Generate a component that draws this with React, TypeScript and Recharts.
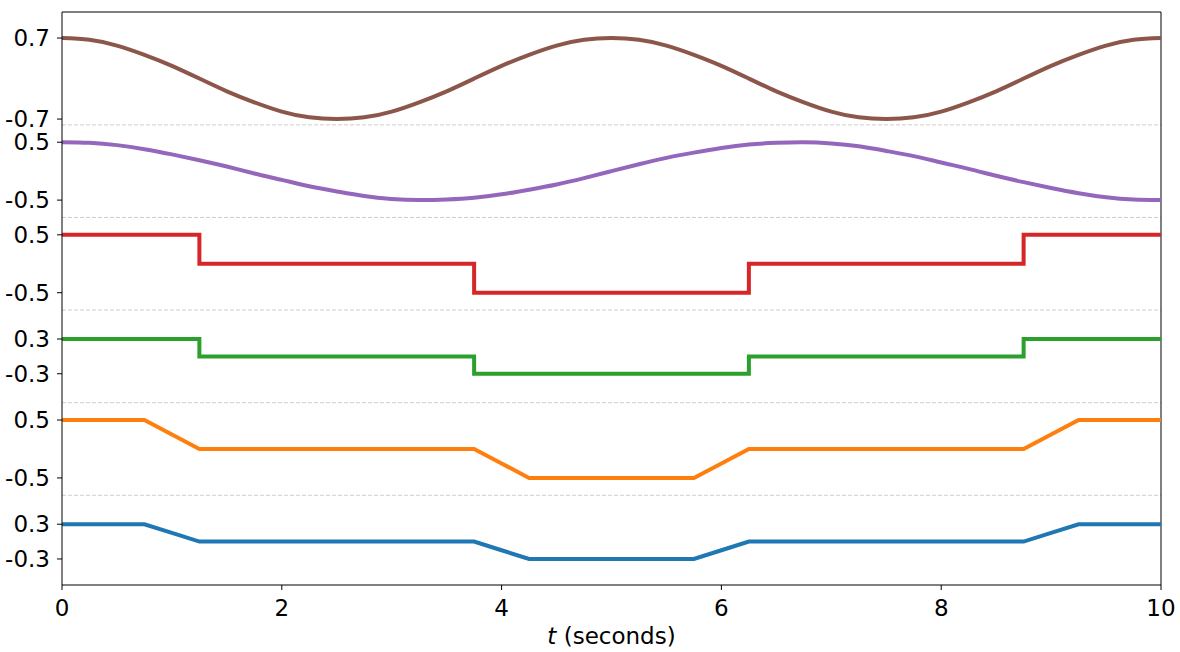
import React from "react";
import { LineChart, Line, XAxis, YAxis, ReferenceLine, Label } from "recharts";

const time = [0,0.25,0.5,0.75,1,1.25,1.5,1.75,2,2.25,2.5,2.75,3,3.25,3.5,3.75,4,4.25,4.5,4.75,5,5.25,5.5,5.75,6,6.25,6.5,6.75,7,7.25,7.5,7.75,8,8.25,8.5,8.75,9,9.25,9.5,9.75,10];

const blue = [0.3,0.3,0.3,0.3,0.15,0,0,0,0,0,0,0,0,0,0,0,-0.15,-0.3,-0.3,-0.3,-0.3,-0.3,-0.3,-0.3,-0.15,0,0,0,0,0,0,0,0,0,0,0,0.15,0.3,0.3,0.3,0.3];
const orange = [0.5,0.5,0.5,0.5,0.25,0,0,0,0,0,0,0,0,0,0,0,-0.25,-0.5,-0.5,-0.5,-0.5,-0.5,-0.5,-0.5,-0.25,0,0,0,0,0,0,0,0,0,0,0,0.25,0.5,0.5,0.5,0.5];
const green = [0.3,0.3,0.3,0.3,0.3,0,0,0,0,0,0,0,0,0,0,-0.3,-0.3,-0.3,-0.3,-0.3,-0.3,-0.3,-0.3,-0.3,-0.3,0,0,0,0,0,0,0,0,0,0,0.3,0.3,0.3,0.3,0.3,0.3];
const red = [0.5,0.5,0.5,0.5,0.5,0,0,0,0,0,0,0,0,0,0,-0.5,-0.5,-0.5,-0.5,-0.5,-0.5,-0.5,-0.5,-0.5,-0.5,0,0,0,0,0,0,0,0,0,0,0.5,0.5,0.5,0.5,0.5,0.5];
const purple = [0.5,0.49,0.45,0.38,0.29,0.19,0.08,-0.04,-0.15,-0.26,-0.35,-0.43,-0.48,-0.5,-0.49,-0.46,-0.4,-0.32,-0.23,-0.12,0,0.12,0.23,0.32,0.4,0.46,0.49,0.5,0.48,0.43,0.35,0.26,0.15,0.04,-0.08,-0.19,-0.29,-0.38,-0.45,-0.49,-0.5];
const brown = [0.7,0.67,0.57,0.41,0.22,0,-0.22,-0.41,-0.57,-0.67,-0.7,-0.67,-0.57,-0.41,-0.22,0,0.22,0.41,0.57,0.67,0.7,0.67,0.57,0.41,0.22,0,-0.22,-0.41,-0.57,-0.67,-0.7,-0.67,-0.57,-0.41,-0.22,0,0.22,0.41,0.57,0.67,0.7];

const xTicks = [0, 2, 4, 6, 8, 10];
const yTickValues = [-0.3, 0.3, 1.1, 2.1, 2.9, 3.5, 4.3, 5.3, 5.9, 6.9, 7.3, 8.7];
const yTickLabels = ["-0.3", "0.3", "-0.5", "0.5", "-0.3", "0.3", "-0.5", "0.5", "-0.5", "0.5", "-0.7", "0.7"];
const separators = [0.8, 2.4, 4.0, 5.6, 7.2];

const series = [
  { key: "blue", values: blue, offset: 0, color: "#1f77b4", type: "linear" },
  { key: "orange", values: orange, offset: 1.6, color: "#ff7f0e", type: "linear" },
  { key: "green", values: green, offset: 3.2, color: "#2ca02c", type: "stepAfter" },
  { key: "red", values: red, offset: 4.8, color: "#d62728", type: "stepAfter" },
  { key: "purple", values: purple, offset: 6.4, color: "#9467bd", type: "natural" },
  { key: "brown", values: brown, offset: 8.0, color: "#8c564b", type: "natural" },
];

const data = time.map((t, i) => {
  const row: Record<string, number> = { t };
  series.forEach((s) => {
    row[s.key] = s.values[i] + s.offset;
  });
  return row;
});

const Y_MIN = -0.75;
const Y_MAX = 9.15;
const FONT = "'DejaVu Sans', sans-serif";
const FS = 23;

const XTick = (props: any) => {
  const { x, y, payload } = props;
  return (
    <text x={x} y={y + 26} textAnchor="middle" fontSize={FS} fontFamily={FONT} fill="#000">
      {payload.value}
    </text>
  );
};

const YTick = (props: any) => {
  const { x, y, payload } = props;
  const idx = yTickValues.findIndex((v) => Math.abs(v - payload.value) < 1e-6);
  return (
    <text x={x - 1} y={y + 8} textAnchor="end" fontSize={FS} fontFamily={FONT} fill="#000">
      {idx >= 0 ? yTickLabels[idx] : ""}
    </text>
  );
};

export default function App() {
  return (
    <div style={{ position: "fixed", left: 0, top: 0, width: 1180, height: 652, background: "#fff" }}>
      <LineChart width={1180} height={652} data={data} margin={{ top: 12, right: 19, left: 0, bottom: 0 }}>
        <XAxis
          dataKey="t"
          type="number"
          domain={[0, 10]}
          ticks={xTicks}
          allowDataOverflow
          height={67}
          stroke="#000"
          tickLine={{ stroke: "#000" }}
          tickSize={5}
          tickMargin={0}
          tick={<XTick />}
        >
          <Label
            position="insideBottom"
            content={(props: any) => {
              const vb = props.viewBox;
              const cx = vb.x + vb.width / 2;
              return (
                <text x={cx} y={vb.y + 59} textAnchor="middle" fontSize={FS} fontFamily={FONT} fill="#000">
                  <tspan fontStyle="italic">t</tspan>
                  <tspan> (seconds)</tspan>
                </text>
              );
            }}
          />
        </XAxis>
        <YAxis
          type="number"
          domain={[Y_MIN, Y_MAX]}
          allowDataOverflow
          ticks={yTickValues}
          interval={0}
          width={62}
          stroke="#000"
          tickLine={{ stroke: "#000" }}
          tickSize={5}
          tickMargin={6}
          tick={<YTick />}
        />
        {separators.map((y) => (
          <ReferenceLine key={y} y={y} stroke="#c0c0c0" strokeWidth={0.8} strokeDasharray="4 2" />
        ))}
        <ReferenceLine y={Y_MAX} stroke="#000" strokeWidth={1} />
        <ReferenceLine x={10} stroke="#000" strokeWidth={1} />
        {series.map((s) => (
          <Line
            key={s.key}
            dataKey={s.key}
            type={s.type as any}
            stroke={s.color}
            strokeWidth={4}
            dot={false}
            activeDot={false}
            isAnimationActive={false}
          />
        ))}
      </LineChart>
    </div>
  );
}
